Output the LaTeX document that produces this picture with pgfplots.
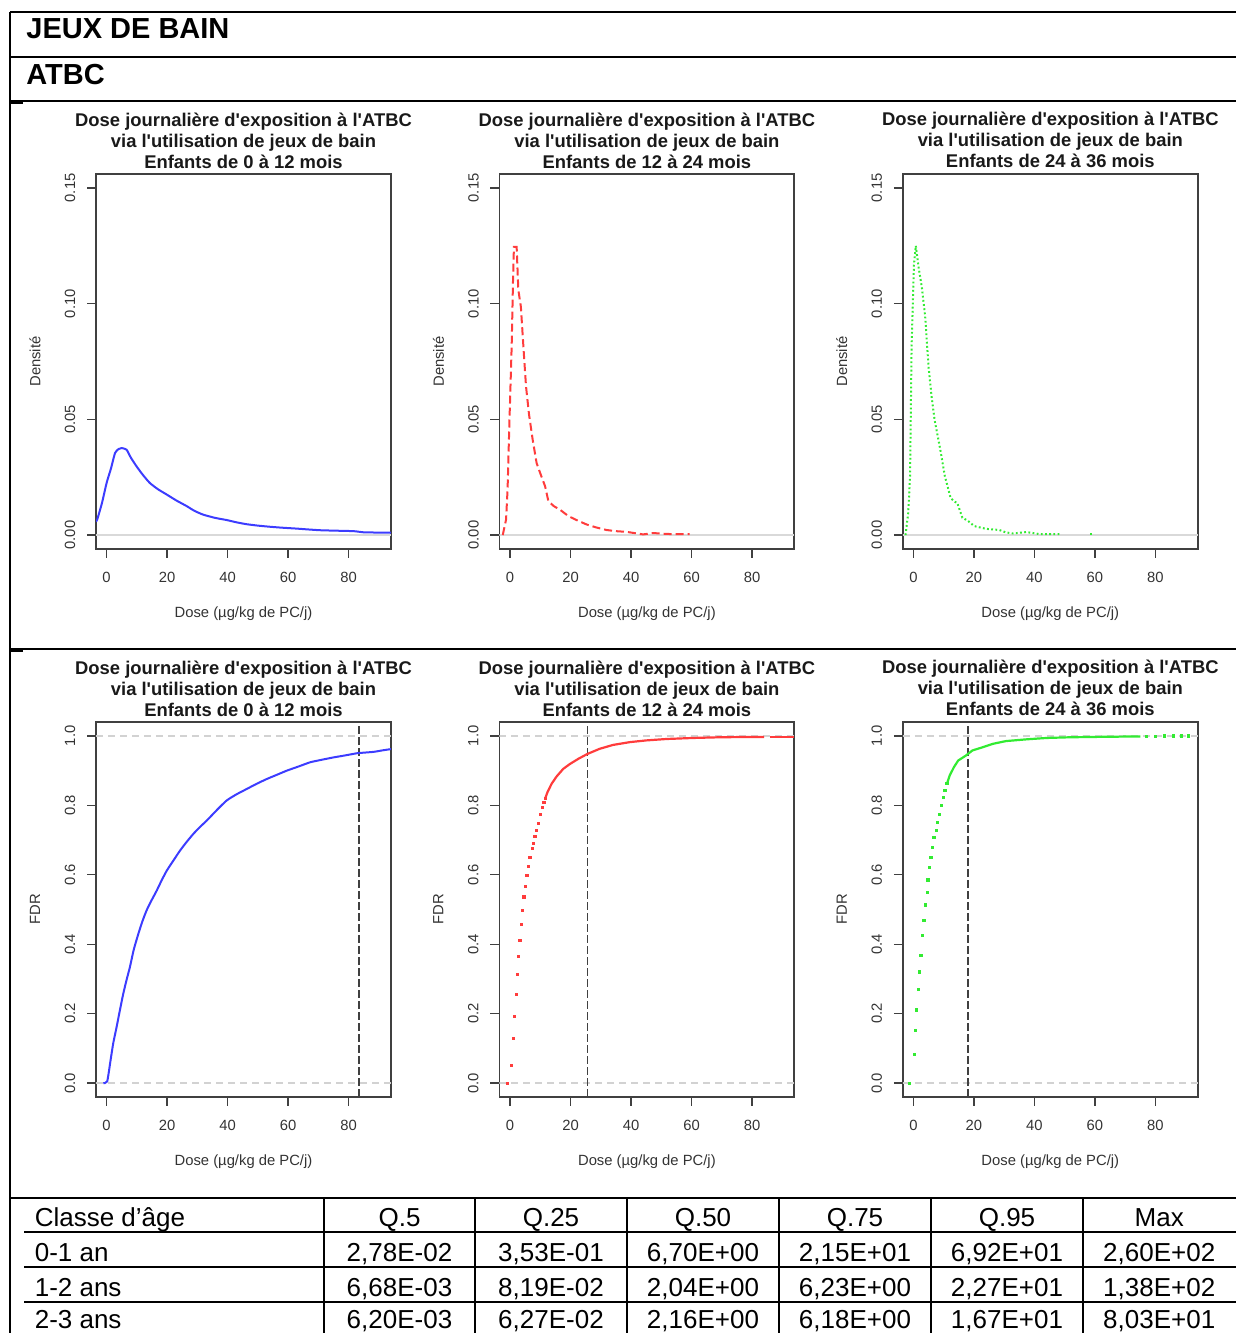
\documentclass[border=0pt]{standalone}
\usepackage{pgfplots}
\pgfplotsset{compat=1.18}
\usepackage{fontspec}
\setmainfont{Liberation Sans}
\newfontfamily\rfont{Liberation Sans}
\definecolor{rblue}{RGB}{60,60,255}
\definecolor{rred}{RGB}{255,60,60}
\definecolor{rgreen}{RGB}{50,235,50}
\pgfplotsset{
  rplot/.style={
    scale only axis, width=147.5pt, height=187.5pt,
    anchor=north west,
    axis line style={black!75, line width=0.9pt},
    tick style={black!75, line width=0.7pt},
    tick align=outside, major tick length=4.5pt,
    xtick pos=bottom, ytick pos=left,
    xmin=-3.5, xmax=94,
    xtick={0,20,40,60,80}, xticklabels={0,20,40,60,80},
    tick label style={font=\rfont\fontsize{7.4}{8}\selectfont, text=black!80},
    xticklabel style={anchor=center},
    yticklabel style={rotate=90, anchor=center},
    xticklabel shift=9.5pt, yticklabel shift=8.5pt,
    title style={at={(axis description cs:0.5,1)}, anchor=south, yshift=-3.3pt, inner sep=0pt,
      align=center, font=\rfont\bfseries\fontsize{9.2}{10.5}\selectfont, text=black!90},
    xlabel={Dose (µg/kg de PC/j)},
    xlabel style={at={(axis description cs:0.5,-0.1733)}, anchor=center,
      font=\rfont\fontsize{7.4}{8}\selectfont, text=black!80},
    ylabel style={at={(axis description cs:-0.2068,0.5)}, anchor=center, rotate=0,
      font=\rfont\fontsize{7.4}{8}\selectfont, text=black!80},
  },
  dens/.style={rplot, ymin=-0.006, ymax=0.156, ytick={0,0.05,0.1,0.15},
    yticklabels={0.00,0.05,0.10,0.15}, ylabel={Densité}},
  fdr/.style={rplot, ymin=-0.04, ymax=1.04, ytick={0,0.2,0.4,0.6,0.8,1},
    yticklabels={0.0,0.2,0.4,0.6,0.8,1.0}, ylabel={FDR}},
}
\begin{document}
\begin{tikzpicture}
\useasboundingbox (0,0) rectangle (618pt,666.5pt);
% frame
\draw[line width=0.9pt] (5pt,660.5pt) -- (618pt,660.5pt);
\draw[line width=0.9pt] (5pt,660.5pt) -- (5pt,0pt);
\draw[line width=0.9pt] (5pt,638pt) -- (618pt,638pt);
\draw[line width=0.9pt] (5pt,616pt) -- (618pt,616pt);
\draw[line width=0.9pt] (5pt,615pt) -- (11.5pt,615pt);
\draw[line width=0.9pt] (5pt,342pt) -- (618pt,342pt);
\draw[line width=0.9pt] (5pt,341pt) -- (11.5pt,341pt);
\draw[line width=0.9pt] (5pt,67.5pt) -- (618pt,67.5pt);
\foreach \yy in {50.5,33,15.5} \draw[line width=0.9pt] (12pt,\yy pt) -- (618pt,\yy pt);
\foreach \xx in {162,237.5,313.5,389.5,465.5,541.5} \draw[line width=0.9pt] (\xx pt,67.5pt) -- (\xx pt,0pt);
% headings
\node[anchor=base west, inner sep=0pt, font=\bfseries\fontsize{14.5}{16}\selectfont] at (13pt,647.4pt) {JEUX DE BAIN};
\node[anchor=base west, inner sep=0pt, font=\bfseries\fontsize{14.5}{16}\selectfont] at (13pt,624pt) {ATBC};
% table
\begin{scope}[every node/.style={inner sep=0pt, font=\fontsize{13}{14}\selectfont}]
\node[anchor=base west] at (17.2pt,53.35pt) {Classe d’âge};
\node[anchor=base west] at (17.2pt,35.85pt) {0-1 an};
\node[anchor=base west] at (17.2pt,18.35pt) {1-2 ans};
\node[anchor=base west] at (17.2pt,2.1pt) {2-3 ans};
\node[anchor=base] at (199.75pt,53.35pt) {Q.5};
\node[anchor=base] at (275.5pt,53.35pt) {Q.25};
\node[anchor=base] at (351.5pt,53.35pt) {Q.50};
\node[anchor=base] at (427.5pt,53.35pt) {Q.75};
\node[anchor=base] at (503.5pt,53.35pt) {Q.95};
\node[anchor=base] at (579.6pt,53.35pt) {Max};
\node[anchor=base] at (199.75pt,35.85pt) {2,78E-02};
\node[anchor=base] at (275.5pt,35.85pt) {3,53E-01};
\node[anchor=base] at (351.5pt,35.85pt) {6,70E+00};
\node[anchor=base] at (427.5pt,35.85pt) {2,15E+01};
\node[anchor=base] at (503.5pt,35.85pt) {6,92E+01};
\node[anchor=base] at (579.6pt,35.85pt) {2,60E+02};
\node[anchor=base] at (199.75pt,18.35pt) {6,68E-03};
\node[anchor=base] at (275.5pt,18.35pt) {8,19E-02};
\node[anchor=base] at (351.5pt,18.35pt) {2,04E+00};
\node[anchor=base] at (427.5pt,18.35pt) {6,23E+00};
\node[anchor=base] at (503.5pt,18.35pt) {2,27E+01};
\node[anchor=base] at (579.6pt,18.35pt) {1,38E+02};
\node[anchor=base] at (199.75pt,2.1pt) {6,20E-03};
\node[anchor=base] at (275.5pt,2.1pt) {6,27E-02};
\node[anchor=base] at (351.5pt,2.1pt) {2,16E+00};
\node[anchor=base] at (427.5pt,2.1pt) {6,18E+00};
\node[anchor=base] at (503.5pt,2.1pt) {1,67E+01};
\node[anchor=base] at (579.6pt,2.1pt) {8,03E+01};
\end{scope}
% ---------- density plots
\begin{axis}[dens, at={(48pt,579.5pt)},
  title={Dose journalière d'exposition à l'ATBC\\via l'utilisation de jeux de bain\\Enfants de 0 à 12 mois}]
\addplot[gray!30, line width=0.9pt] coordinates {(-3.5,0) (94,0)};
\addplot[rblue, line width=1pt, smooth, tension=0.35] coordinates {
(-3.5,0.006) (-3.1,0.0067) (-1.5,0.014) (0,0.0225) (1.5,0.029) (2.8,0.0355) (4,0.0372) (5,0.0376)
(6.6,0.0369) (8,0.0335) (9.9,0.0297) (12,0.026) (14.3,0.0225) (17,0.0198) (19.9,0.0175) (23,0.015)
(26.5,0.0125) (29,0.0105) (32,0.0088) (36,0.0074) (39.7,0.0065) (43,0.0055) (46.3,0.0047) (50,0.0041)
(54,0.0036) (58,0.0032) (62.9,0.0028) (66,0.0025) (70.6,0.0021) (76,0.0019) (81.7,0.0017) (85,0.0012)
(90,0.0011) (94,0.0011)};
\end{axis}
\begin{axis}[dens, at={(249.7pt,579.5pt)},
  title={Dose journalière d'exposition à l'ATBC\\via l'utilisation de jeux de bain\\Enfants de 12 à 24 mois}]
\addplot[gray!30, line width=0.9pt] coordinates {(-3.5,0) (94,0)};
\addplot[rred, line width=1pt, dash pattern=on 4pt off 2pt] coordinates {
(-2.4,0) (-1.3,0.0067) (-0.8,0.0197) (-0.2,0.0484) (0.55,0.0814) (1.0,0.11) (1.3,0.1245) (2.2,0.1245)
(2.75,0.106) (3.6,0.0986) (4.5,0.08) (5.3,0.0642) (6.3,0.052) (7.5,0.0412) (8.8,0.0311) (10.2,0.026)
(11.6,0.0211) (12.7,0.0146) (14.5,0.0125) (16.5,0.011) (19.3,0.0082) (22,0.0065) (25.3,0.0046)
(28.5,0.0033) (31.9,0.0022) (35,0.0017) (38.5,0.0014) (41,0.0009) (44,0.0003) (47.3,0.0009)
(50.5,0.0006) (53.9,0.0004) (59.4,0.0004)};
\end{axis}
\begin{axis}[dens, at={(451.4pt,579.5pt)},
  title={Dose journalière d'exposition à l'ATBC\\via l'utilisation de jeux de bain\\Enfants de 24 à 36 mois}]
\addplot[gray!30, line width=0.9pt] coordinates {(-3.5,0) (94,0)};
\addplot[rgreen, line width=1pt, dash pattern=on 0.9pt off 1.2pt] coordinates {
(-2.6,0) (-1.7,0.0096) (-1.1,0.0254) (-0.6,0.0814) (0.2,0.117) (0.8,0.125) (1.7,0.1158) (2.8,0.107)
(3.9,0.0943) (5.0,0.0728) (6,0.06) (7.0,0.0498) (8.9,0.0369) (10.4,0.0254) (12.3,0.0161) (13.5,0.0145)
(14.5,0.0139) (16.2,0.0075) (18,0.0062) (20.1,0.0039) (22,0.0033) (24,0.0027) (28.4,0.0022)
(30.5,0.0012) (32.9,0.0007) (35,0.001) (37.3,0.0013) (39.5,0.0009) (41.8,0.0004) (45,0.0004) (48.5,0.0004)};
\addplot[rgreen, line width=1pt, dash pattern=on 0.9pt off 1.2pt] coordinates {(58.5,0.0004) (59.6,0.0004)};
\end{axis}
% ---------- FDR plots
\begin{axis}[fdr, at={(48pt,305.5pt)},
  title={Dose journalière d'exposition à l'ATBC\\via l'utilisation de jeux de bain\\Enfants de 0 à 12 mois}]
\addplot[gray!35, line width=0.9pt, dash pattern=on 3.5pt off 2.5pt] coordinates {(-3.5,0) (94,0)};
\addplot[gray!35, line width=0.9pt, dash pattern=on 3.5pt off 2.5pt] coordinates {(-3.5,1) (94,1)};
\addplot[black!75, line width=0.9pt, dash pattern=on 4pt off 1.5pt] coordinates {(83.5,-0.04) (83.5,1.04)};
\addplot[rblue, line width=1pt, smooth, tension=0.35] coordinates {
(-1.1,0) (0.2,0.005) (1.3,0.065) (2.2,0.115) (3.3,0.161) (4.4,0.21) (5.5,0.257) (6.6,0.297) (7.7,0.334)
(9,0.385) (10.5,0.43) (11.8,0.465) (13.2,0.497) (14.9,0.527) (16.6,0.555) (18.2,0.584) (19.9,0.612)
(22,0.64) (24.3,0.67) (26.5,0.695) (28.7,0.718) (30.9,0.738) (33.1,0.756) (36.4,0.786) (39.7,0.814)
(43,0.832) (46.3,0.847) (49.6,0.862) (53,0.876) (56.3,0.888) (59.6,0.9) (63.5,0.912) (67.3,0.924)
(71,0.931) (75,0.938) (79,0.944) (82.8,0.95) (85.5,0.952) (88.3,0.954) (91,0.958) (94,0.962)};
\end{axis}
\begin{axis}[fdr, at={(249.7pt,305.5pt)},
  title={Dose journalière d'exposition à l'ATBC\\via l'utilisation de jeux de bain\\Enfants de 12 à 24 mois}]
\addplot[gray!35, line width=0.9pt, dash pattern=on 3.5pt off 2.5pt] coordinates {(-3.5,0) (94,0)};
\addplot[gray!35, line width=0.9pt, dash pattern=on 3.5pt off 2.5pt] coordinates {(-3.5,1) (94,1)};
\addplot[black!75, line width=0.9pt, dash pattern=on 4pt off 1.5pt] coordinates {(25.6,-0.04) (25.6,1.04)};
\addplot[only marks, mark=square*, mark size=0.55pt, rred, mark options={draw=none, fill=rred}] coordinates {
(-0.9,0) (0.55,0.051) (1.1,0.128) (1.4,0.192) (2.0,0.255) (2.4,0.313) (2.75,0.365) (3.3,0.411)
(3.7,0.457) (4.2,0.497) (4.6,0.536) (5.2,0.566) (5.6,0.598) (6.2,0.624) (6.6,0.651) (7.3,0.675)
(7.7,0.691) (8.25,0.71) (8.8,0.727) (9.35,0.747) (10.1,0.775) (10.8,0.795) (11.2,0.808) (11.6,0.819)};
\addplot[rred, line width=1.1pt] coordinates {
(11.6,0.819) (12.4,0.838) (13.75,0.862) (15.4,0.883) (17.6,0.905) (19.8,0.919) (22.6,0.934) (25.6,0.948)
(29.7,0.963) (34.1,0.974) (39.6,0.982) (45.1,0.987) (51.7,0.991) (60.5,0.994) (69.3,0.996) (80.3,0.997) (84,0.997)};
\addplot[rred, line width=1.1pt] coordinates {(86,0.997) (94,0.997)};
\end{axis}
\begin{axis}[fdr, at={(451.4pt,305.5pt)},
  title={Dose journalière d'exposition à l'ATBC\\via l'utilisation de jeux de bain\\Enfants de 24 à 36 mois}]
\addplot[gray!35, line width=0.9pt, dash pattern=on 3.5pt off 2.5pt] coordinates {(-3.5,0) (94,0)};
\addplot[gray!35, line width=0.9pt, dash pattern=on 3.5pt off 2.5pt] coordinates {(-3.5,1) (94,1)};
\addplot[black!75, line width=0.9pt, dash pattern=on 4pt off 1.5pt] coordinates {(18.05,-0.04) (18.05,1.04)};
\addplot[only marks, mark=square*, mark size=0.55pt, rgreen, mark options={draw=none, fill=rgreen}] coordinates {
(-1.45,0) (0.2,0.083) (0.56,0.152) (1.1,0.211) (1.7,0.269) (2.0,0.32) (2.45,0.368) (3.1,0.425)
(3.45,0.468) (3.9,0.513) (4.5,0.55) (4.8,0.585) (5.2,0.622) (5.8,0.651) (6.2,0.679) (6.8,0.708)
(7.5,0.727) (7.9,0.751) (8.6,0.775) (9.25,0.799) (9.8,0.823) (10.4,0.843) (11.1,0.862)
(77,0.999) (80,0.999) (83,1.0) (86,1.0) (88.5,1.0) (90.8,1.0)};
\addplot[rgreen, line width=1.1pt] coordinates {
(11.1,0.862) (12.0,0.886) (13.4,0.91) (14.8,0.929) (17.3,0.943) (19.5,0.958) (22.8,0.967) (26.2,0.977)
(30.6,0.985) (37.3,0.99) (44,0.994) (51.8,0.996) (60,0.997) (70,0.998) (75,0.998)};
\end{axis}
\end{tikzpicture}
\end{document}
